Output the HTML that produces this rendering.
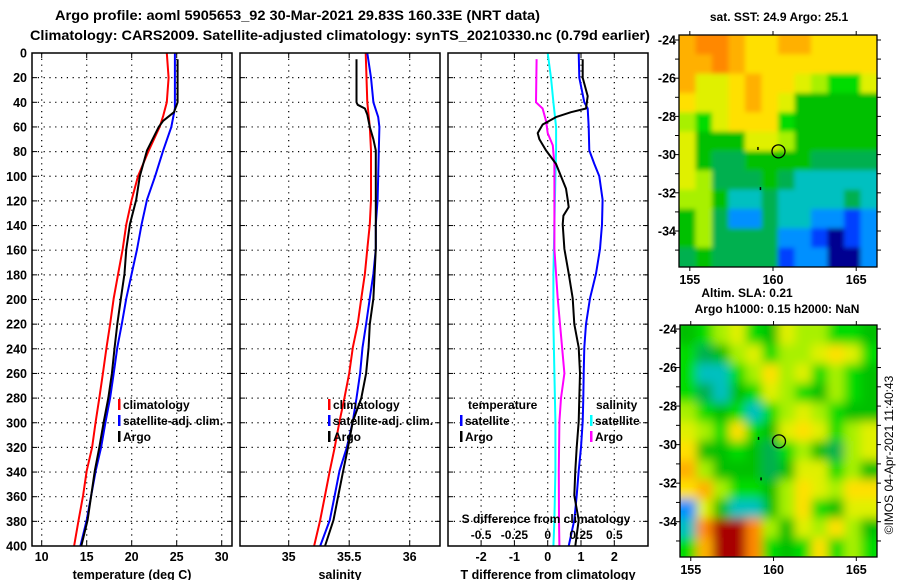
<!DOCTYPE html>
<html><head><meta charset="utf-8"><style>
html,body{margin:0;padding:0;background:#fff;}
svg{display:block;font-family:"Liberation Sans",Arial,sans-serif;font-weight:bold;}
</style></head><body>
<svg id="fig" width="900" height="580" viewBox="0 0 900 580" xmlns="http://www.w3.org/2000/svg">
<defs>
<filter id="blurA" x="-5%" y="-5%" width="110%" height="110%"><feGaussianBlur stdDeviation="2.5"/></filter>
<filter id="blurB" x="-5%" y="-5%" width="110%" height="110%"><feGaussianBlur stdDeviation="5"/></filter>
<clipPath id="clipA"><rect x="679" y="35" width="198" height="232"/></clipPath>
<clipPath id="clipB"><rect x="680" y="325" width="197" height="232"/></clipPath>
</defs>
<text x="55" y="20" font-size="13.5" textLength="485" lengthAdjust="spacingAndGlyphs">Argo profile: aoml 5905653_92 30-Mar-2021 29.83S 160.33E (NRT data)</text>
<text x="30" y="40" font-size="13.5" textLength="620" lengthAdjust="spacingAndGlyphs">Climatology: CARS2009. Satellite-adjusted climatology: synTS_20210330.nc (0.79d earlier)</text>
<g id="panels"></g>
<g id="maps"></g>
<text transform="translate(893,455) rotate(-90)" font-size="12" font-weight="normal" text-anchor="middle">©IMOS 04-Apr-2021 11:40:43</text>
</svg>
<script>
// ---- profile data (depth in m) ----
const tClimD=[0,20,40,51,60,79,100,119,139,159,179,199,220,239,260,280,299,320,339,359,379,400];
const tClim=[23.9,24.1,23.9,23.5,23.1,21.9,20.7,20.0,19.4,19.0,18.5,18.0,17.6,17.2,16.8,16.4,16.0,15.6,15.0,14.6,14.1,13.6];
const tSatD=[0,40,45,60,79,100,119,139,159,179,199,220,239,260,280,299,320,339,359,379,400];
const tSat=[24.8,24.8,24.8,24.4,23.5,22.6,21.7,21.1,20.6,20.0,19.4,18.9,18.4,18.0,17.6,17.1,16.6,16.0,15.5,15.0,14.3];
const tArgoD=[5,40,48,55,60,79,100,119,139,159,179,199,220,239,260,280,299,320,339,359,379,400];
const tArgo=[25.1,25.1,24.7,23.5,23.0,21.7,20.9,20.5,19.8,19.4,19.2,18.8,18.4,18.1,17.8,17.4,16.9,16.4,15.9,15.5,15.1,14.4];
const sClimD=[0,40,60,79,100,119,139,159,179,199,220,239,260,280,299,320,339,359,379,400];
const sClim=[35.636,35.65,35.67,35.68,35.68,35.68,35.67,35.65,35.63,35.60,35.57,35.53,35.50,35.46,35.42,35.38,35.34,35.30,35.26,35.21];
const sSatD=[0,20,40,52,60,79,100,119,139,159,179,199,220,239,260,280,299,320,339,359,379,400];
const sSat=[35.65,35.68,35.70,35.74,35.75,35.745,35.74,35.735,35.72,35.72,35.70,35.67,35.64,35.61,35.59,35.56,35.53,35.48,35.42,35.38,35.34,35.26];
const sArgoD=[5,40,42,45,50,60,70,79,100,119,139,159,179,199,220,239,260,280,299,320,339,359,379,400];
const sArgo=[35.56,35.56,35.57,35.63,35.65,35.67,35.70,35.72,35.72,35.72,35.72,35.72,35.71,35.70,35.67,35.66,35.64,35.60,35.53,35.49,35.45,35.41,35.37,35.30];
const dTSatD=[0,20,40,45,60,79,90,100,119,139,159,179,199,220,239,260,280,299,320,339,359,379,400];
const dTSat=[0.93,0.95,1.1,1.2,1.23,1.25,1.4,1.55,1.65,1.63,1.57,1.45,1.27,1.15,1.1,1.08,1.07,1.05,1.0,0.93,0.87,0.8,0.63];
const dTArgoD=[5,20,35,45,48,52,58,65,70,79,90,100,110,119,125,132,139,159,179,199,220,239,260,280,299,320,339,359,379,400];
const dTArgo=[1.05,1.05,1.2,1.15,0.7,0.25,-0.15,-0.3,-0.25,-0.05,0.25,0.4,0.55,0.6,0.63,0.47,0.45,0.5,0.63,0.75,0.8,0.93,0.97,0.95,0.93,0.87,0.83,0.8,0.93,0.83];
const dSSatD=[0,20,40,60,79,100,139,179,220,260,299,339,379,400];
const dSSat=[0,0.025,0.043,0.063,0.063,0.058,0.05,0.043,0.043,0.05,0.058,0.058,0.05,0.043];
const dSArgoD=[5,40,45,55,65,75,90,119,159,199,239,260,280,299,339,379,400];
const dSArgo=[-0.083,-0.088,-0.038,-0.013,0,0.038,0.05,0.05,0.05,0.075,0.108,0.125,0.1,0.088,0.083,0.085,0.088];
const depthTicks=[0,20,40,60,80,100,120,140,160,180,200,220,240,260,280,300,320,340,360,380,400];
const tTicks=[10,15,20,25,30];
const sTicks=[35,35.5,36];
const dTTicks=[-2,-1,0,1,2];
const dSTickLabels=["-0.5","-0.25","0","0.25","0.5"];
const dSTicks=[-0.5,-0.25,0,0.25,0.5];
// ---- map data (12x12 colour-class grids, rows from north to south) ----
const sstGrid=[
[10,11,11,10,9,9,10,10,9,9,9,9],
[10,10,11,10,9,9,9,9,9,9,9,9],
[10,8,8,9,10,9,9,8,7,6,6,8],
[9,8,8,9,10,9,8,5,5,5,5,5],
[7,6,8,9,9,9,6,5,5,5,5,5],
[8,5,5,5,8,8,7,5,5,5,5,5],
[8,5,4,4,5,5,5,5,4,4,4,4],
[8,7,4,4,4,5,4,3,3,3,3,3],
[7,7,5,3,3,4,3,3,3,3,4,3],
[5,7,4,2,2,4,3,3,2,2,1,2],
[5,7,4,4,4,4,2,2,1,0,1,2],
[4,5,4,4,4,4,1,2,2,0,0,2]];
const slaGrid=[
[5,6,7,8,6,5,8,7,7,6,6,5],
[6,4,5,7,8,6,7,7,8,9,8,6],
[6,3,3,6,7,9,7,8,6,7,6,5],
[6,4,3,5,6,8,7,6,5,7,6,5],
[7,6,5,6,3,6,7,8,7,6,5,5],
[8,7,6,9,6,5,8,9,8,6,7,8],
[9,5,5,6,5,4,6,7,5,4,7,8],
[10,7,5,5,5,4,5,8,8,6,7,5],
[9,10,7,6,6,5,7,9,8,7,9,9],
[2,8,5,3,3,5,7,9,6,5,8,8],
[3,11,12,12,11,7,5,8,7,9,7,5],
[6,10,12,12,11,6,5,6,9,6,7,6]];
const latTicks=[-24,-26,-28,-30,-32,-34];
const lonTicks=[155,160,165];
const argoLon=160.33, argoLat=-29.83;

const palette=['#000090','#0040ff','#0090ff','#00c0c0','#00b050','#00c000','#00dc00','#a8f000','#e0f000','#ffe000','#ffb000','#ff8800','#a80000'];
const NS='http://www.w3.org/2000/svg';
function el(tag,attrs,parent){const e=document.createElementNS(NS,tag);for(const k in attrs)e.setAttribute(k,attrs[k]);parent.appendChild(e);return e;}
const panels=document.getElementById('panels');
const Y0=53,Y1=546;
const FS=12.5;
function yD(d){return Y0+d*(Y1-Y0)/400;}
function mkX(x0,x1,v0,v1){return v=>x0+(v-v0)*(x1-x0)/(v1-v0);}

function panel(name,px0,px1,xf,xticks,xlabels,gridX,title,yLabels){
  const g=el('g',{},panels);
  
  
  depthTicks.forEach(d=>{
    if(d>0&&d<400){const l=el('line',{x1:px0,x2:px1,y1:yD(d),y2:yD(d),stroke:'#000','stroke-width':1.2,'stroke-dasharray':'1.2,4.6'},g);
    
    el('line',{x1:px0,x2:px0+5,y1:yD(d),y2:yD(d),stroke:'#000'},g);el('line',{x1:px1-5,x2:px1,y1:yD(d),y2:yD(d),stroke:'#000'},g);}
    if(yLabels){const t=el('text',{x:27,y:yD(d)+4.5,'font-size':FS,'text-anchor':'end'},g);t.textContent=d;
    }
  });
  gridX.forEach(v=>{const l=el('line',{x1:xf(v),x2:xf(v),y1:Y0,y2:Y1,stroke:'#000','stroke-width':1.2,'stroke-dasharray':'1.2,4.6'},g);
    
    el('line',{x1:xf(v),x2:xf(v),y1:Y1-5,y2:Y1,stroke:'#000'},g);el('line',{x1:xf(v),x2:xf(v),y1:Y0,y2:Y0+5,stroke:'#000'},g);});
  xticks.forEach((v,i)=>{const t=el('text',{x:xf(v),y:561,'font-size':FS,'text-anchor':'middle'},g);t.textContent=xlabels[i];
    });
  const tt=el('text',{x:(px0+px1)/2,y:579,'font-size':FS,'text-anchor':'middle'},g);tt.textContent=title;
  
  return g;
}
function series(g,name,ds,vs,xf,color){
  const pts=ds.map((d,i)=>xf(vs[i]).toFixed(1)+','+yD(d).toFixed(1)).join(' ');
  const p=el('polyline',{points:pts,fill:'none',stroke:color,'stroke-width':2,'stroke-linejoin':'round'},g);
  
}
function frame(g,px0,px1){const r=el('rect',{x:px0,y:Y0,width:px1-px0,height:Y1-Y0,fill:'none',stroke:'#000','stroke-width':1.5},g);
  }
function legend(g,x,y,items,name){
  const lg=el('g',{},g);
  items.forEach((it,i)=>{const yy=y+i*16;
    if(it[1]){el('rect',{x:x,y:yy-10,width:2.5,height:11,fill:it[1]},lg);}
    const t=el('text',{x:x+(it[1]?5:0),y:yy,'font-size':12},lg);t.textContent=it[0];
    });
}
// Panel 1
const xT=mkX(41.7,221.7,10,30);
const g1=panel('temperature-panel',32,232,xT,tTicks,tTicks.map(String),tTicks,'temperature (deg C)',true);
series(g1,'temperature-climatology',tClimD,tClim,xT,'#ff0000');
series(g1,'temperature-satellite-adjusted',tSatD,tSat,xT,'#0000ff');
series(g1,'temperature-argo',tArgoD,tArgo,xT,'#000');
frame(g1,32,232);
legend(g1,118,409,[['climatology','#ff0000'],['satellite-adj. clim.','#0000ff'],['Argo','#000']],'temperature-legend');
// Panel 2
const xS=mkX(288.7,409.7,35,36);
const g2=panel('salinity-panel',240,440,xS,sTicks,['35','35.5','36'],sTicks,'salinity',false);
series(g2,'salinity-climatology',sClimD,sClim,xS,'#ff0000');
series(g2,'salinity-satellite-adjusted',sSatD,sSat,xS,'#0000ff');
series(g2,'salinity-argo',sArgoD,sArgo,xS,'#000');
frame(g2,240,440);
legend(g2,328,409,[['climatology','#ff0000'],['satellite-adj. clim.','#0000ff'],['Argo','#000']],'salinity-legend');
// Panel 3
const xDT=mkX(547.7,581,0,1);
const xDS=mkX(547.7,581,0,0.25);
const g3=panel('difference-panel',448,648,xDT,dTTicks,dTTicks.map(String),dTTicks,'T difference from climatology',false);
series(g3,'salinity-diff-satellite',dSSatD,dSSat,xDS,'#00ffff');
series(g3,'salinity-diff-argo',dSArgoD,dSArgo,xDS,'#ff00ff');
series(g3,'temperature-diff-satellite',dTSatD,dTSat,xDT,'#0000ff');
series(g3,'temperature-diff-argo',dTArgoD,dTArgo,xDT,'#000');
frame(g3,448,648);
legend(g3,460,409,[['',null],['satellite','#0000ff'],['Argo','#000']],'temperature-diff-legend');
legend(g3,590,409,[['',null],['satellite','#00ffff'],['Argo','#ff00ff']],'salinity-diff-legend');
(function(){const t=el('text',{x:468,y:409,'font-size':12},g3);t.textContent='temperature';
const t2=el('text',{x:596,y:409,'font-size':12},g3);t2.textContent='salinity';
const t3=el('text',{x:546,y:523,'font-size':12,'text-anchor':'middle'},g3);t3.textContent='S difference from climatology';
dSTicks.forEach((v,i)=>{const t=el('text',{x:xDS(v),y:539,'font-size':12,'text-anchor':'middle'},g3);t.textContent=dSTickLabels[i];
});})();

// Maps
const maps=document.getElementById('maps');
function drawMap(name,grid,mx0,mx1,my0,my1,latTop,latStep,titles,blurId,clipId){
  const g=el('g',{},maps);
  const lon0=154.35,lon1=166.25;
  const lx=v=>mx0+(v-lon0)*(mx1-mx0)/(lon1-lon0);
  const ly=v=>latTop+(-24-v)*latStep;
  const rows=grid.length,cols=grid[0].length,cw=(mx1-mx0)/cols,ch=(my1-my0)/rows;
  const cg=el('g',{'clip-path':'url(#'+clipId+')'},g);
  const bg=el('g',{filter:'url(#'+blurId+')'},cg);
  grid.forEach((row,r)=>row.forEach((v,c)=>{
    const ex0=c===0?-8:0, ex1=c===cols-1?8:0, ey0=r===0?-8:0, ey1=r===rows-1?8:0;
    const cell=el('rect',{x:mx0+c*cw+ex0,y:my0+r*ch+ey0,width:cw+0.5-ex0+ex1,height:ch+0.5-ey0+ey1,fill:palette[v]},bg);
    
    }));
  el('rect',{x:mx0,y:my0,width:mx1-mx0,height:my1-my0,fill:'none',stroke:'#000','stroke-width':1.3},g);
  for(let la=-24;la>=-35;la--){el('line',{x1:mx0-4,x2:mx0,y1:ly(la),y2:ly(la),stroke:'#000'},g);el('line',{x1:mx1,x2:mx1+4,y1:ly(la),y2:ly(la),stroke:'#000'},g);}
  latTicks.forEach(la=>{const t=el('text',{x:mx0-3,y:ly(la)+4.5,'font-size':FS,'text-anchor':'end'},g);t.textContent=la;
    });
  lonTicks.forEach(lo=>{el('line',{x1:lx(lo),x2:lx(lo),y1:my0-4,y2:my0,stroke:'#000'},g);el('line',{x1:lx(lo),x2:lx(lo),y1:my1,y2:my1+4,stroke:'#000'},g);
    const t=el('text',{x:lx(lo),y:my1+17,'font-size':FS,'text-anchor':'middle'},g);t.textContent=lo;
    });
  const c=el('circle',{cx:lx(argoLon),cy:ly(argoLat),r:6.5,fill:'none',stroke:'#000','stroke-width':1.3},g);
  
  el('rect',{x:lx(159.05),y:ly(-29.6),width:1.5,height:3,fill:'#000'},g);
  el('rect',{x:lx(159.2),y:ly(-31.7),width:1.5,height:3,fill:'#000'},g);
  titles.forEach(tt=>{const t=el('text',{x:tt[0],y:tt[1],'font-size':12,'text-anchor':'middle'},g);t.textContent=tt[2];
    });
}
drawMap('sst-map',sstGrid,679,877,35,267,40,19.1,[[779,21,'sat. SST: 24.9 Argo: 25.1']],'blurA','clipA');
drawMap('sla-map',slaGrid,680,877,325,557,329,19.27,[[747,297,'Altim. SLA: 0.21'],[777,313,'Argo h1000: 0.15 h2000: NaN']],'blurB','clipB');
</script>
</body></html>
